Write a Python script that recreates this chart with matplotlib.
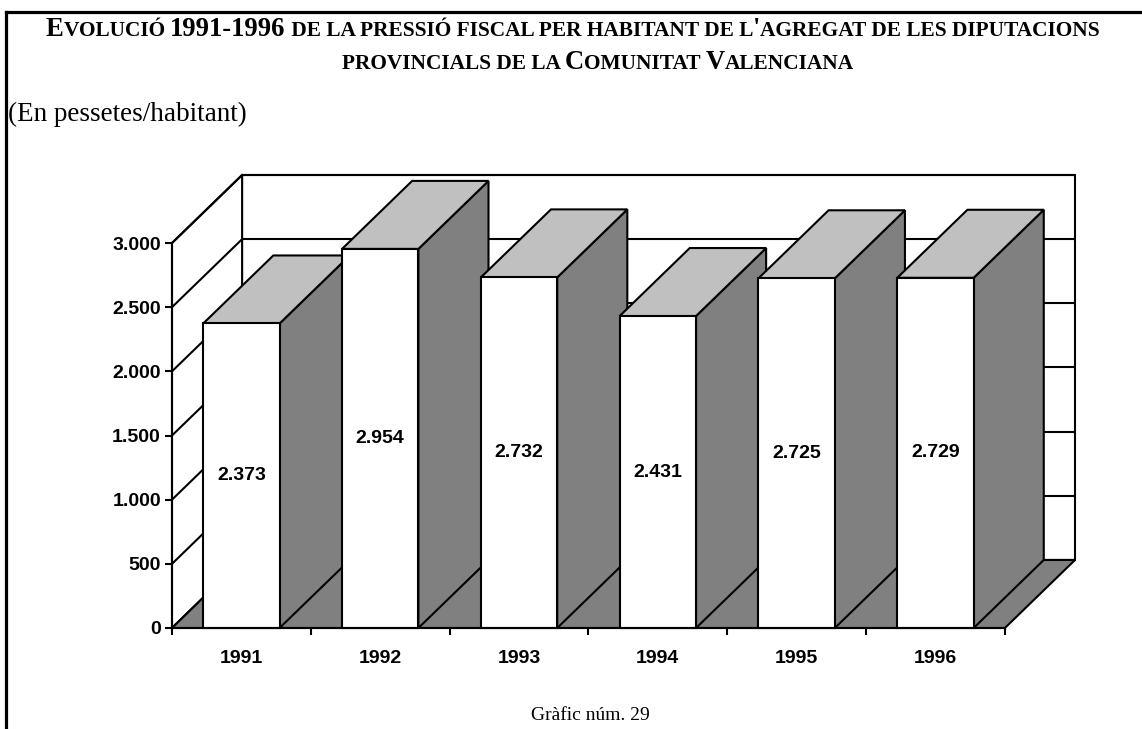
import matplotlib
matplotlib.use('Agg')
import matplotlib.pyplot as plt
from matplotlib.patches import Polygon
from matplotlib.lines import Line2D
from matplotlib.ticker import FuncFormatter

# data
years = ['1991', '1992', '1993', '1994', '1995', '1996']
values = [2373, 2954, 2732, 2431, 2725, 2729]
yticks = [0, 500, 1000, 1500, 2000, 2500, 3000]

title_lines = ["Evolució 1991-1996 de la pressió fiscal per habitant de l'agregat de les diputacions",
               "provincials de la Comunitat Valenciana"]
subtitle = "(En pessetes/habitant)"
footer = "Gràfic núm. 29"

# 3d look
depth_x = 0.505     # in category units
depth_y = 530       # in value units
bar_w = 0.55
ymax = 3000
ncat = len(years)

W, H, DPI = 1142, 729, 100
fig = plt.figure(figsize=(W / DPI, H / DPI), dpi=DPI)
fig.patch.set_facecolor('white')

# axes placed on the front plane of the 3d box
l, r, b, t = 172 / W, 1075 / W, 1 - 628 / H, 1 - 175 / H
ax = fig.add_axes([l, b, r - l, t - b])
ax.set_xlim(0, ncat + depth_x)
ax.set_ylim(0, ymax + depth_y)
ax.patch.set_alpha(0)

lw = 1.5
dark = '#808080'
light = '#c0c0c0'

def poly(pts, fc, z=1):
    ax.add_patch(Polygon(pts, closed=True, facecolor=fc, edgecolor='black',
                         linewidth=lw, joinstyle='miter', clip_on=False, zorder=z))

# back wall
poly([(depth_x, depth_y), (ncat + depth_x, depth_y),
      (ncat + depth_x, ymax + depth_y), (depth_x, ymax + depth_y)], 'white')
# left side wall
poly([(0, 0), (depth_x, depth_y), (depth_x, ymax + depth_y), (0, ymax)], 'white')
for v in yticks:
    ax.plot([depth_x, ncat + depth_x], [v + depth_y, v + depth_y], color='black', lw=lw, zorder=1.1,
            solid_capstyle='butt', clip_on=False)
    ax.plot([0, depth_x], [v, v + depth_y], color='black', lw=lw, zorder=1.1, clip_on=False)
# floor
poly([(0, 0), (ncat, 0), (ncat + depth_x, depth_y), (depth_x, depth_y)], dark, 1.2)

# bars
for i, v in enumerate(values):
    x0 = i + 0.5 - bar_w / 2
    x1 = i + 0.5 + bar_w / 2
    z = 2 + i * 0.1
    poly([(x1, 0), (x1 + depth_x, depth_y), (x1 + depth_x, v + depth_y), (x1, v)], dark, z)
    poly([(x0, v), (x1, v), (x1 + depth_x, v + depth_y), (x0 + depth_x, v + depth_y)], light, z)
    poly([(x0, 0), (x1, 0), (x1, v), (x0, v)], 'white', z)
    lab = f'{v:,}'.replace(',', '.')
    ax.text(i + 0.5, v / 2, lab, ha='center', va='center', fontsize=14,
            fontweight='bold', family='Liberation Sans', zorder=5)

# axes styling
for s in ['top', 'right']:
    ax.spines[s].set_visible(False)
ax.spines['left'].set_bounds(0, ymax)
ax.spines['bottom'].set_bounds(0, ncat)
ax.spines['left'].set_linewidth(lw)
ax.spines['bottom'].set_linewidth(lw)
ax.spines['left'].set_zorder(6)
ax.spines['bottom'].set_zorder(6)

ax.set_yticks(yticks)
ax.yaxis.set_major_formatter(FuncFormatter(lambda v, p: f'{int(v):,}'.replace(',', '.')))
ax.tick_params(axis='y', length=5, width=lw, pad=3, labelsize=14)
ax.set_xticks(range(ncat + 1))
ax.set_xticklabels([])
ax.set_xticks([i + 0.5 for i in range(ncat)], minor=True)
ax.set_xticklabels(years, minor=True)
ax.tick_params(axis='x', which='major', length=5, width=lw)
ax.tick_params(axis='x', which='minor', length=0, pad=16, labelsize=14)
for lab in ax.get_yticklabels() + ax.get_xticklabels(minor=True):
    lab.set_fontweight('bold')
    lab.set_family('Liberation Sans')

# border lines of the page
fig.add_artist(Line2D([6 / W, 1], [1 - 12 / H, 1 - 12 / H], color='black', lw=2.3))
fig.add_artist(Line2D([6 / W, 6 / W], [1 - 12 / H, 0], color='black', lw=2.3))

# title with small caps
renderer = fig.canvas.get_renderer()
big, small = 19.2, 15.4

def runs(s):
    out = []
    for ch in s:
        size = small if ch.islower() or ch == ' ' else big
        if out and out[-1][1] == size:
            out[-1][0] += ch.upper()
        else:
            out.append([ch.upper(), size])
    return out

def adv(s, size):
    kw = dict(fontsize=size, fontweight='bold', family='Liberation Serif')
    t1 = fig.text(0, 0, '|' + s + '|', **kw)
    t2 = fig.text(0, 0, '||', **kw)
    w = t1.get_window_extent(renderer).width - t2.get_window_extent(renderer).width
    t1.remove()
    t2.remove()
    return w

for line, base, cx in zip(title_lines, [36, 69], [573, 598]):
    rs = runs(line)
    widths = [adv(s, sz) for s, sz in rs]
    x = cx - sum(widths) / 2
    for (s, sz), w in zip(rs, widths):
        fig.text(x / W, 1 - base / H, s, fontsize=sz, fontweight='bold',
                 family='Liberation Serif', ha='left', va='baseline')
        x += w

fig.text(8 / W, 1 - 121 / H, subtitle, fontsize=19.5, family='Liberation Serif',
         ha='left', va='baseline')
fig.text(590 / W, 1 - 715 / H, footer, fontsize=14, family='Liberation Serif',
         ha='center', va='center')

fig.savefig('out.png', dpi=DPI)
